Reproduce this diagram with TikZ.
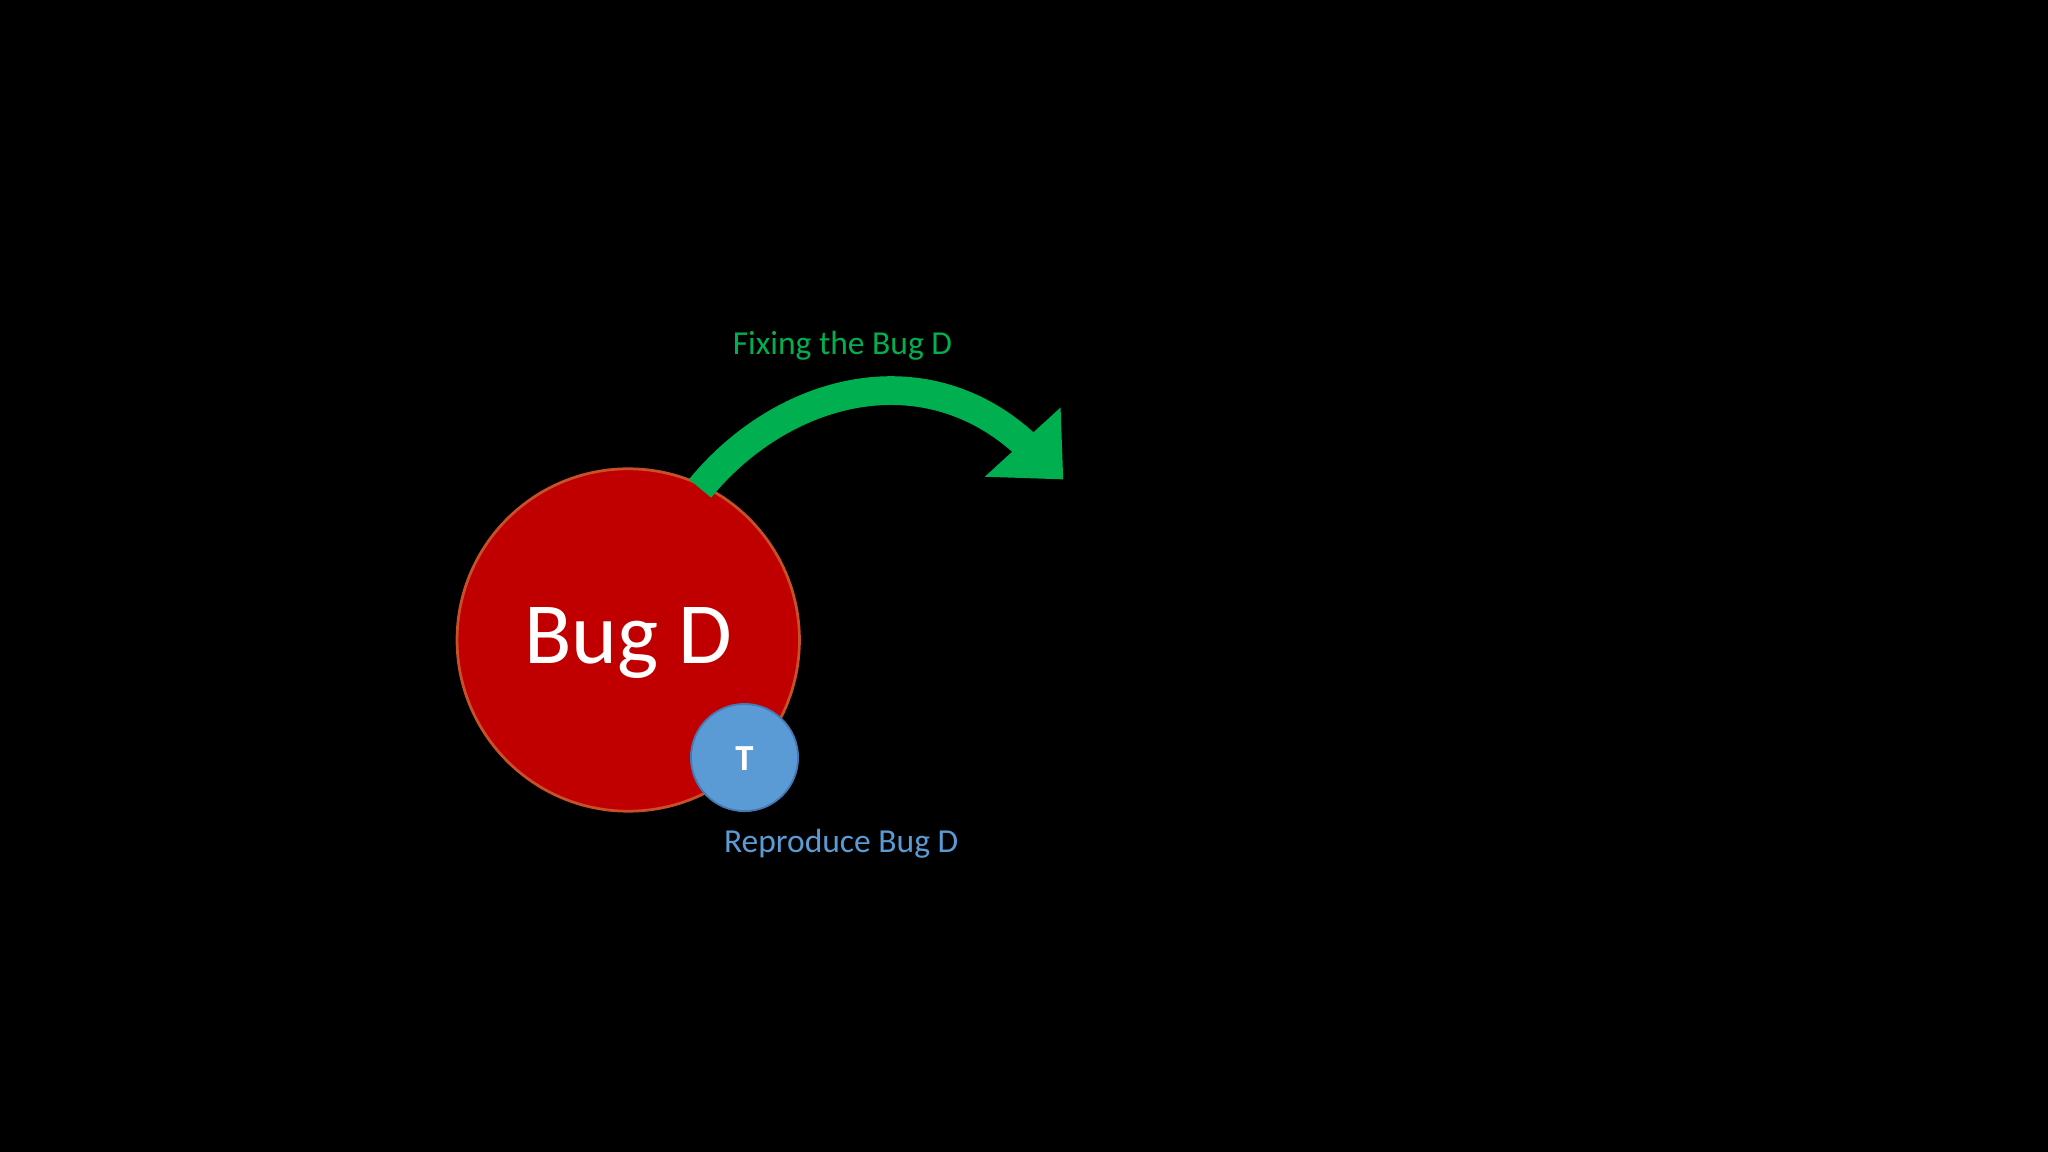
\documentclass[tikz,border=0pt]{standalone}
\usepackage{fontspec}
\setmainfont{Carlito}
\definecolor{bugred}{RGB}{192,0,0}
\definecolor{bugedge}{RGB}{200,80,40}
\definecolor{tblue}{RGB}{91,155,213}
\definecolor{tedge}{RGB}{70,120,180}
\definecolor{fixgreen}{RGB}{0,176,80}
\begin{document}
\begin{tikzpicture}[x=0.01cm,y=-0.01cm]
\fill[black] (0,0) rectangle (1568,882);
\node[circle,fill=bugred,draw=bugedge,line width=0.6pt,minimum size=2.62cm,inner sep=0] (bug) at (481,490) {};
\node[text=white,font=\fontsize{19}{22}\selectfont] (bugt) at (481,492) {Bug D};
\node[circle,fill=tblue,draw=tedge,line width=0.4pt,minimum size=0.82cm,inner sep=0] (t) at (570,580) {};
\node[text=white,font=\fontsize{8}{9}\selectfont\bfseries] (tt) at (570,581) {T};
\node[text=fixgreen,font=\fontsize{7.3}{9}\selectfont] (fix) at (645,265) {Fixing the Bug D};
\node[text=tblue,font=\fontsize{7.3}{9}\selectfont] (rep) at (644,646) {Reproduce Bug D};
\coordinate (a0) at (536,374);
\coordinate (a1) at (788,343);
\draw[line width=0.22cm,fixgreen] (a0) .. controls (600,296) and (710,268) .. (a1);
\fill[fixgreen] (812,312) -- (814,367) -- (754,365) -- cycle;
\end{tikzpicture}
\end{document}
